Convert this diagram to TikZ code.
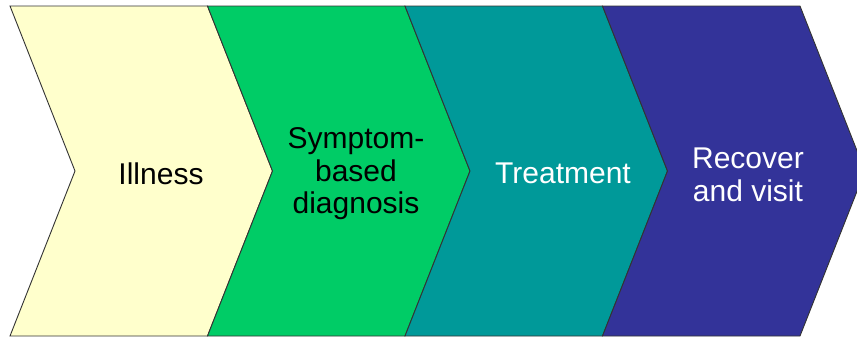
\documentclass[tikz,border=0pt]{standalone}
\usepackage{fontspec}
\setmainfont{Liberation Sans}
\definecolor{cyel}{HTML}{FFFFCC}
\definecolor{cgrn}{HTML}{00CC66}
\definecolor{ctea}{HTML}{009999}
\definecolor{cblu}{HTML}{333399}
\tikzset{
  chev/.style={draw=black!80, line width=0.9pt, line join=miter},
  lbl/.style={align=center, font=\fontsize{30}{32.5}\selectfont, inner sep=0pt}
}
\begin{document}
\begin{tikzpicture}[x=1pt,y=-1pt]
\useasboundingbox (0,0) rectangle (857,338);
\clip (0,0) rectangle (857,338);
\fill[white] (0,0) rectangle (857,338);
\foreach \i/\c in {0/cyel,1/cgrn,2/ctea,3/cblu}{
  \pgfmathsetmacro{\xa}{10+197.5*\i}
  \pgfmathsetmacro{\xb}{\xa+197.5}
  \filldraw[chev, fill=\c] (\xa,6) -- (\xb,6) -- (\xb+65,171) -- (\xb,336) -- (\xa,336) -- (\xa+65,171) -- cycle;
}
\node[lbl, text=black] (illness) at (161,174) {Illness};
\node[lbl, text=black] (diag) at (356,174) {Symptom-\\based\\diagnosis};
\node[lbl, text=white] (treat) at (563,173) {Treatment};
\node[lbl, text=white] (recover) at (748,175) {Recover\\and visit};
\end{tikzpicture}
\end{document}
